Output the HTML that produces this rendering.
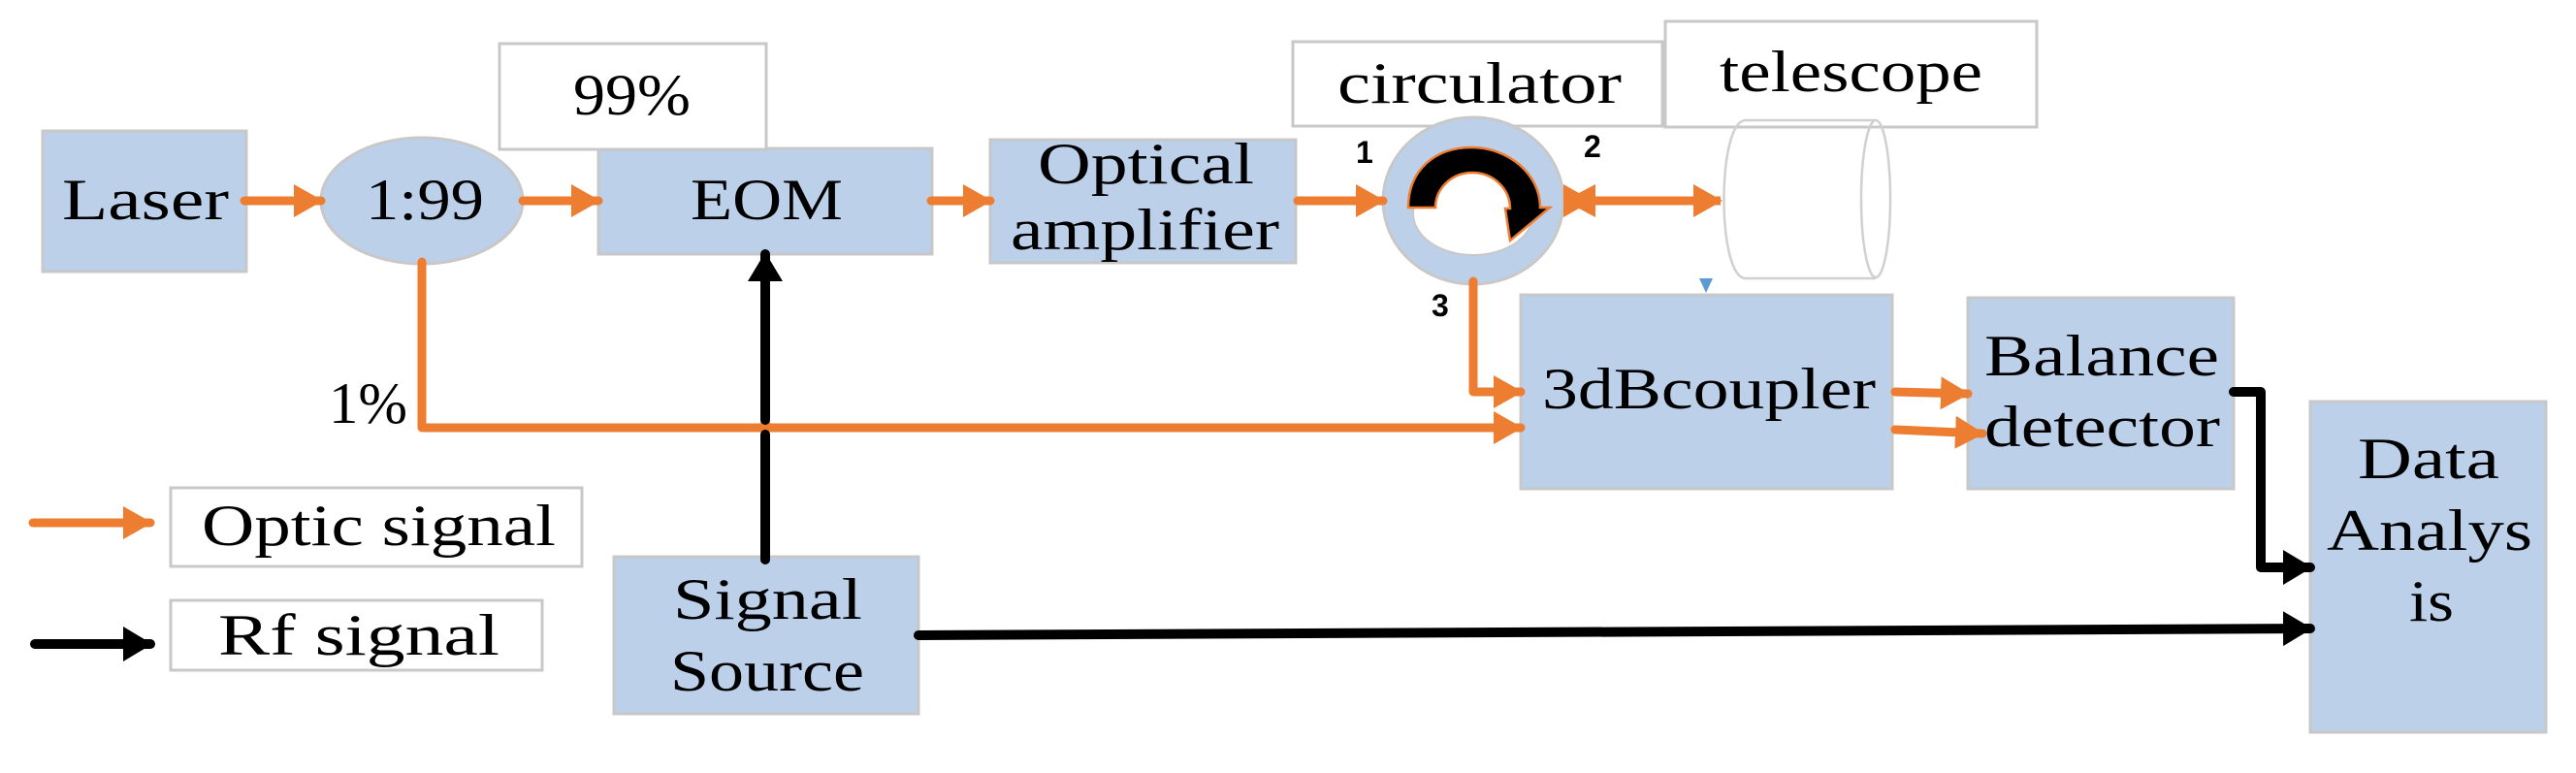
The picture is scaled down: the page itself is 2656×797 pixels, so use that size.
<!DOCTYPE html>
<html><head><meta charset="utf-8"><style>
html,body{margin:0;padding:0;background:#fff;}
svg{display:block;}
text{font-family:"Liberation Serif",serif;fill:#000;}
</style></head><body>
<svg width="2656" height="797" viewBox="0 0 2656 797" xmlns="http://www.w3.org/2000/svg">
<defs>
<marker id="ao" markerUnits="userSpaceOnUse" markerWidth="30" markerHeight="34" refX="28" refY="17" orient="auto"><path d="M0,0 L30,17 L0,34 Z" fill="#ED7D31"/></marker>
<marker id="ab" markerUnits="userSpaceOnUse" markerWidth="30" markerHeight="36" refX="28" refY="18" orient="auto"><path d="M0,0 L30,18 L0,36 Z" fill="#000"/></marker>
</defs>
<g fill="#BDD0E9" stroke="#C8C8C8" stroke-width="3">
<rect x="44" y="135" width="210" height="145"/>
<ellipse cx="435" cy="207" rx="104" ry="65"/>
<rect x="617" y="153" width="344" height="109"/>
<rect x="1021" y="144" width="315" height="127"/>
<rect x="633" y="574" width="314" height="162"/>
<rect x="1568" y="304" width="383" height="200"/>
<rect x="2029" y="307" width="274" height="197"/>
<rect x="2382" y="414" width="243" height="341"/>
</g>
<g fill="#fff" stroke="#C8C8C8" stroke-width="3">
<rect x="515" y="45" width="275" height="109"/>
<rect x="1333" y="43" width="381" height="87"/>
<rect x="1717" y="22" width="383" height="109"/>
<rect x="176" y="503" width="424" height="81"/>
<rect x="176" y="619" width="383" height="72"/>
</g>
<!-- circulator ring -->
<ellipse cx="1519" cy="207" rx="93" ry="86" fill="#BDD0E9" stroke="#C8C8C8" stroke-width="3"/>
<ellipse cx="1519" cy="220" rx="62" ry="43" fill="#fff" stroke="#C8C8C8" stroke-width="2"/>
<path d="M1452,214 C1452,175 1480,152 1517,152 C1556,152 1588,180 1588,214 L1598,214 L1557,248 L1552,215 L1557,215 C1557,195 1540,178 1518,178 C1496,178 1480,195 1480,214 Z" fill="#000" stroke="#ED7D31" stroke-width="2.5"/>
<!-- telescope -->
<g fill="none" stroke="#D0D0D0" stroke-width="2.5">
<path d="M1800,124 L1934,124 M1800,287 L1934,287"/>
<path d="M1800,124 C1770,124 1770,287 1800,287"/>
<ellipse cx="1934" cy="205" rx="15" ry="81"/>
</g>
<path d="M1752,287 L1766,287 L1759,302 Z" fill="#5B9BD5"/>
<!-- orange connectors -->
<g stroke="#ED7D31" stroke-width="9" fill="none" stroke-linecap="round" stroke-linejoin="round">
<line x1="252" y1="207" x2="331" y2="207" marker-end="url(#ao)"/>
<line x1="539" y1="207" x2="617" y2="207" marker-end="url(#ao)"/>
<line x1="960" y1="207" x2="1021" y2="207" marker-end="url(#ao)"/>
<line x1="1338" y1="207" x2="1426" y2="207" marker-end="url(#ao)"/>
<polyline points="435,270 435,441 1568,441" marker-end="url(#ao)"/>
<polyline points="1519,290 1519,404 1568,404" marker-end="url(#ao)"/>
<line x1="1954" y1="404" x2="2029" y2="406" marker-end="url(#ao)"/>
<line x1="1954" y1="443" x2="2044" y2="447" marker-end="url(#ao)"/>
<line x1="34" y1="539" x2="155" y2="539" marker-end="url(#ao)"/>
</g>
<line x1="1640" y1="207" x2="1774" y2="207" stroke="#ED7D31" stroke-width="9" marker-start="url(#ao)" marker-end="url(#ao)"/>
<path d="M1613,207 L1645,190 L1645,224 Z" fill="#ED7D31"/>
<circle cx="789" cy="439" r="6" fill="#ED7D31"/>
<!-- black connectors -->
<g stroke="#000" stroke-width="10" fill="none" stroke-linecap="round" stroke-linejoin="round">
<line x1="789" y1="577" x2="789" y2="448"/>
<line x1="789" y1="433" x2="789" y2="262" marker-end="url(#ab)"/>
<line x1="947" y1="655" x2="2382" y2="648" marker-end="url(#ab)"/>
<polyline points="2303,404 2331,404 2331,585 2382,585" marker-end="url(#ab)"/>
<line x1="36" y1="664" x2="155" y2="664" marker-end="url(#ab)"/>
</g>
<!-- text -->
<g font-size="60">
<text x="64" y="226" textLength="172" lengthAdjust="spacingAndGlyphs">Laser</text>
<text x="377" y="226" textLength="122" lengthAdjust="spacingAndGlyphs">1:99</text>
<text x="712" y="226" textLength="157" lengthAdjust="spacingAndGlyphs">EOM</text>
<text x="591" y="118" textLength="121" lengthAdjust="spacingAndGlyphs">99%</text>
<text x="1070" y="189" textLength="223" lengthAdjust="spacingAndGlyphs">Optical</text>
<text x="1042" y="257" textLength="277" lengthAdjust="spacingAndGlyphs">amplifier</text>
<text x="339" y="436" textLength="81" lengthAdjust="spacingAndGlyphs">1%</text>
<text x="208" y="562" textLength="365" lengthAdjust="spacingAndGlyphs">Optic signal</text>
<text x="225" y="675" textLength="290" lengthAdjust="spacingAndGlyphs">Rf  signal</text>
<text x="694" y="638" textLength="195" lengthAdjust="spacingAndGlyphs">Signal</text>
<text x="691" y="712" textLength="200" lengthAdjust="spacingAndGlyphs">Source</text>
<text x="1379" y="106" textLength="293" lengthAdjust="spacingAndGlyphs">circulator</text>
<text x="1773" y="94" textLength="271" lengthAdjust="spacingAndGlyphs">telescope</text>
<text x="1590" y="421" textLength="344" lengthAdjust="spacingAndGlyphs">3dBcoupler</text>
<text x="2046" y="387" textLength="242" lengthAdjust="spacingAndGlyphs">Balance</text>
<text x="2046" y="460" textLength="243" lengthAdjust="spacingAndGlyphs">detector</text>
<text x="2431" y="493" textLength="146" lengthAdjust="spacingAndGlyphs">Data</text>
<text x="2399" y="567" textLength="212" lengthAdjust="spacingAndGlyphs">Analys</text>
<text x="2484" y="640" textLength="46" lengthAdjust="spacingAndGlyphs">is</text>
</g>
<g font-family="Liberation Sans, sans-serif" font-weight="bold" font-size="32">
<text x="1398" y="168" style="font-family:'Liberation Sans',sans-serif">1</text>
<text x="1633" y="162" style="font-family:'Liberation Sans',sans-serif">2</text>
<text x="1476" y="326" style="font-family:'Liberation Sans',sans-serif">3</text>
</g>
</svg>
</body></html>
